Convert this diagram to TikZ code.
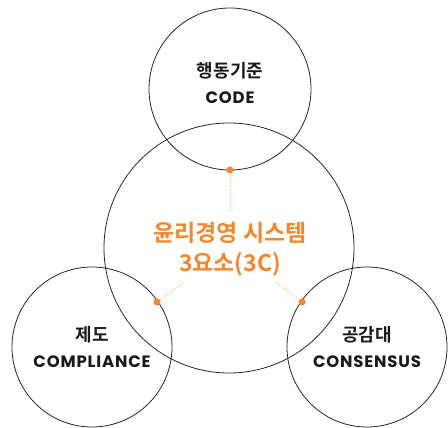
\documentclass[tikz,border=0pt]{standalone}
\usepackage{fontspec}
\setmainfont{Noto Sans CJK KR}[BoldFont={Noto Sans CJK KR Bold}]
\newfontfamily\latinfont{Poppins}[BoldFont={Poppins Bold},LetterSpace=5]
\definecolor{accent}{HTML}{F5862E}
\definecolor{accentlight}{HTML}{F8A86A}
\begin{document}
\begin{tikzpicture}[x=1pt,y=-1pt,
  ring/.style={draw=black!85,line width=0.8pt,circle,inner sep=0pt},
  dot/.style={fill=accent,circle,inner sep=0pt,minimum size=7pt},
  leader/.style={draw=accentlight,line width=1pt,dash pattern=on 1pt off 2pt},
  kor/.style={font=\bfseries\fontsize{18}{21}\selectfont,text=black!90},
  eng/.style={font=\latinfont\bfseries\fontsize{16.5}{19}\selectfont,text=black!90},
  title/.style={font=\bfseries\fontsize{23}{27}\selectfont,text=accent,align=center}]
\useasboundingbox (0,0) rectangle (448,428);
\node[ring,minimum size=250pt] (big) at (229,248) {};
\node[ring,minimum size=162pt] (top) at (230,89) {};
\node[ring,minimum size=160pt] (left) at (92,347) {};
\node[ring,minimum size=160pt] (right) at (367,347) {};
% dots
\node[dot] (dt) at (230,170) {};
\node[dot] (dl) at (157,302) {};
\node[dot] (dr) at (302,302) {};
\coordinate (et) at (230,212);
\coordinate (el) at (183,283);
\coordinate (er) at (277,283);
\draw[leader] (dt) -- (et);
\draw[leader] (dl) -- (el);
\draw[leader] (dr) -- (er);
% texts
\node[title] (t1) at (230,233) {윤리경영 시스템};
\node[title] (t2) at (230,264) {3요소(3C)};
\node[kor] (k1) at (230,71) {행동기준};
\node[eng] (e1) at (230,98) {CODE};
\node[kor] (k2) at (92,335) {제도};
\node[eng] (e2) at (92,362) {COMPLIANCE};
\node[kor] (k3) at (367,335) {공감대};
\node[eng] (e3) at (367,362) {CONSENSUS};
\end{tikzpicture}
\end{document}
